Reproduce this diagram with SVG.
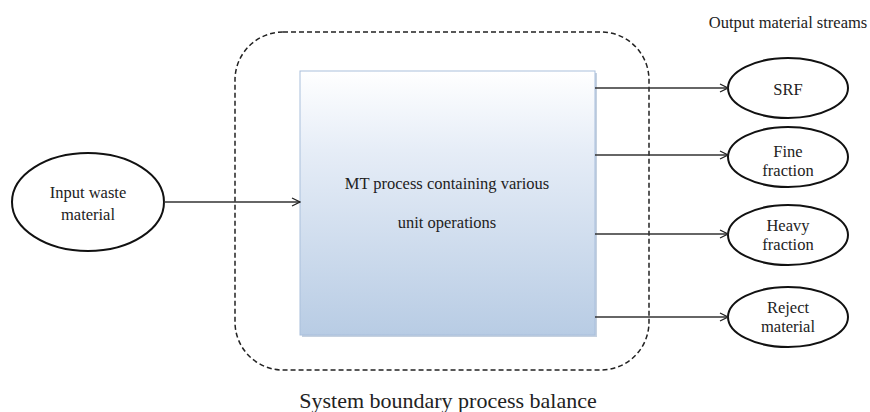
<svg xmlns="http://www.w3.org/2000/svg" width="870" height="412" viewBox="0 0 870 412">
<defs>
<linearGradient id="boxg" x1="0" y1="0" x2="0" y2="1">
<stop offset="0" stop-color="#ffffff"/>
<stop offset="0.3" stop-color="#e6edf7"/>
<stop offset="1" stop-color="#b8cce4"/>
</linearGradient>
<marker id="arr" viewBox="0 0 10 10" refX="9" refY="5" markerWidth="10" markerHeight="10" markerUnits="userSpaceOnUse" orient="auto">
<polyline points="1,1 9,5 1,9" fill="none" stroke="#222" stroke-width="1.3"/>
</marker>
</defs>
<style>
text{font-family:"Liberation Serif","Times New Roman",serif;fill:#222;text-anchor:middle}
.lbl{font-size:16.5px}
.ell{fill:#fff;stroke:#111;stroke-width:2}
.con{stroke:#333;stroke-width:1.3;fill:none;marker-end:url(#arr)}
</style>
<rect x="0" y="0" width="870" height="412" fill="#fff"/>
<g id="boundary">
<rect x="235" y="32" width="414" height="338" rx="48" ry="48" fill="none" stroke="#222" stroke-width="1.5" stroke-dasharray="5,3"/>
<text x="448" y="408" style="font-size:22px">System boundary process balance</text>
</g>
<g id="header"><text class="lbl" x="788" y="28">Output material streams</text></g>
<g id="mt">
<rect x="302" y="73" width="295" height="264" fill="#9fb3cc" opacity="0.6"/>
<rect x="300" y="71" width="295" height="264" fill="url(#boxg)" stroke="#a9bfdc" stroke-width="1"/>
<text class="lbl" x="447" y="189">MT process containing various</text>
<text class="lbl" x="447" y="228">unit operations</text>
</g>
<g id="input">
<ellipse class="ell" cx="88" cy="202" rx="76" ry="49"/>
<text class="lbl" x="88" y="198">Input waste</text>
<text class="lbl" x="88" y="220">material</text>
</g>
<g id="srf">
<ellipse class="ell" cx="788" cy="88" rx="60" ry="30"/>
<text class="lbl" x="788" y="95">SRF</text>
</g>
<g id="fine">
<ellipse class="ell" cx="788" cy="157" rx="60" ry="30"/>
<text class="lbl" x="788" y="157">Fine</text>
<text class="lbl" x="788" y="176">fraction</text>
</g>
<g id="heavy">
<ellipse class="ell" cx="788" cy="235" rx="60" ry="30"/>
<text class="lbl" x="788" y="231">Heavy</text>
<text class="lbl" x="788" y="250">fraction</text>
</g>
<g id="reject">
<ellipse class="ell" cx="788" cy="317" rx="60" ry="30"/>
<text class="lbl" x="788" y="313">Reject</text>
<text class="lbl" x="788" y="332">material</text>
</g>
<g id="connectors">
<line class="con" x1="164" y1="202" x2="300" y2="202"/>
<line class="con" x1="595" y1="88" x2="728" y2="88"/>
<line class="con" x1="595" y1="155" x2="728" y2="155"/>
<line class="con" x1="595" y1="234" x2="728" y2="234"/>
<line class="con" x1="595" y1="317" x2="728" y2="317"/>
</g>
</svg>
